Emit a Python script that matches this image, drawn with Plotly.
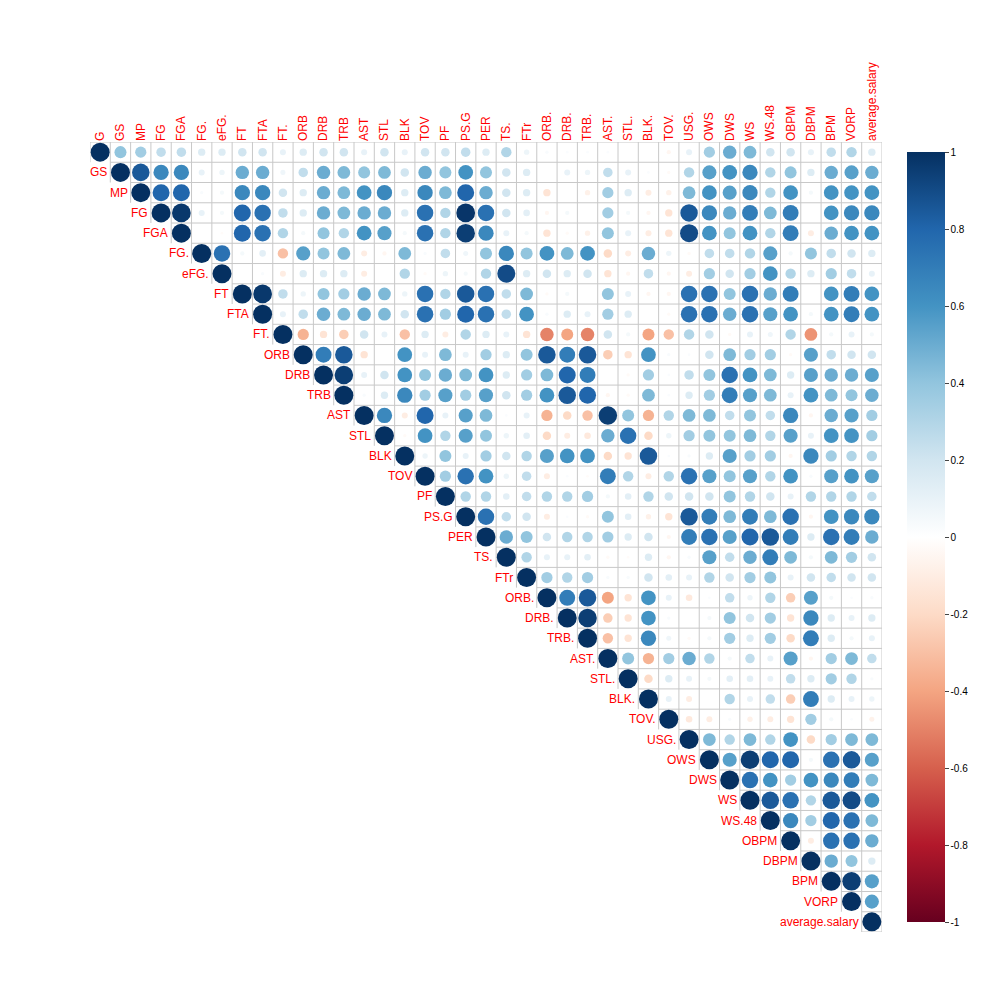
import numpy as np
import plotly.graph_objects as go

variables = ['G', 'GS', 'MP', 'FG', 'FGA', 'FG.', 'eFG.', 'FT', 'FTA', 'FT.', 'ORB', 'DRB', 'TRB',
             'AST', 'STL', 'BLK', 'TOV', 'PF', 'PS.G', 'PER', 'TS.', 'FTr', 'ORB.', 'DRB.', 'TRB.',
             'AST.', 'STL.', 'BLK.', 'TOV.', 'USG.', 'OWS', 'DWS', 'WS', 'WS.48', 'OBPM', 'DBPM',
             'BPM', 'VORP', 'average.salary']

# upper triangle, one list per row (values right of the diagonal)
upper_rows = [
    [.4, .35, .25, .25, .15, .15, .2, .2, .1, .15, .2, .2, .1, .2, .1, .2, .2, .25, .15, .3, .08, .03, .02, .02, .02, 0, 0, -.05, .1, .35, .5, .45, .2, .2, .1, .25, .3, .15],
    [.85, .65, .65, .1, .08, .5, .5, .07, .25, .5, .45, .4, .45, .2, .5, .4, .6, .4, .2, .15, 0, .1, .08, .25, .1, .02, -.03, .3, .55, .6, .65, .3, .4, .15, .5, .55, .5],
    [.8, .8, .03, .05, .65, .65, .2, .15, .5, .45, .6, .65, .15, .65, .45, .8, .5, .2, .15, -.15, 0, -.08, .35, .15, -.1, -.08, .45, .6, .55, .65, .3, .6, .05, .6, .6, .6],
    [.97, .1, .05, .8, .75, .25, .15, .5, .45, .5, .5, .15, .75, .3, .98, .75, .2, .12, -.05, .05, 0, .35, .05, -.05, -.15, .85, .65, .5, .7, .45, .7, 0, .6, .65, .65],
    [0, -.02, .8, .75, .3, .05, .4, .3, .6, .55, .05, .75, .3, .95, .65, .1, .05, -.15, -.03, -.08, .4, .1, -.1, -.15, .9, .6, .4, .6, .3, .7, -.1, .5, .6, .6],
    [.75, .05, .12, -.3, .55, .4, .45, -.1, -.05, .45, .03, .25, .07, .4, .65, .4, .6, .45, .6, -.2, -.1, .5, .08, -.03, .25, .25, .3, .55, .05, .4, .25, .2, .15],
    [0, .03, -.1, .15, .15, .15, -.1, 0, .3, -.03, .08, .05, .3, .9, .15, .2, .15, .2, -.15, -.05, .25, -.05, -.1, .35, .2, .35, .6, .3, .15, .35, .25, .1],
    [.97, .25, .08, .4, .35, .5, .45, .08, .75, .3, .85, .75, .25, .45, -.03, .05, 0, .4, .1, -.05, -.05, .75, .75, .4, .75, .5, .7, 0, .6, .7, .6],
    [.1, .25, .5, .45, .5, .45, .2, .75, .35, .8, .75, .25, .6, .03, .15, .1, .35, .15, 0, -.03, .75, .75, .5, .75, .55, .6, .05, .6, .7, .6],
    [-.35, -.15, -.25, .2, .1, -.3, .15, -.1, .3, .15, .1, -.15, -.5, -.4, -.5, .2, .05, -.4, -.3, .3, .2, -.03, .1, .07, .3, -.45, .05, .1, .05],
    [.7, .85, -.15, 0, .6, .1, .45, .1, .35, .15, .4, .85, .7, .85, -.25, -.15, .6, .03, .02, .2, .45, .35, .35, -.03, .55, .25, .2, .2],
    [.95, .1, .2, .6, .4, .5, .45, .6, .15, .35, .45, .8, .7, 0, -.03, .35, .02, .25, .4, .75, .6, .45, .15, .55, .5, .5, .55],
    [.03, .15, .65, .35, .55, .35, .55, .2, .35, .6, .85, .8, -.05, -.03, .45, .02, .15, .35, .7, .55, .45, .1, .6, .45, .4, .5],
    [.65, -.1, .8, .1, .55, .45, .02, .1, -.35, -.2, -.3, .95, .4, -.35, .3, .45, .45, .25, .4, .25, .65, -.05, .5, .55, .35],
    [-.03, .6, .3, .55, .4, .08, .12, -.2, -.1, -.12, .5, .75, -.2, .08, .35, .4, .4, .45, .3, .55, .1, .6, .6, .35],
    [.08, .4, .1, .35, .2, .3, .55, .6, .6, -.2, -.15, .85, .02, .03, .15, .55, .35, .35, -.05, .65, .35, .3, .3],
    [.35, .75, .6, .08, .25, -.1, .02, -.02, .7, .3, -.1, .3, .75, .55, .4, .55, .3, .6, .03, .55, .6, .55],
    [.3, .3, .12, .25, .3, .3, .35, .05, .12, .3, .2, .2, .2, .4, .3, .2, .1, .3, .3, .3, .25],
    [.75, .25, .2, -.1, .02, -.03, .4, .12, -.08, -.15, .85, .7, .45, .7, .45, .75, -.05, .6, .65, .65],
    [.5, .4, .2, .3, .3, .35, .15, .2, -.05, .7, .75, .55, .8, .85, .7, .15, .75, .7, .5],
    [.3, .1, .1, .12, -.03, -.02, .15, -.05, .03, .55, .25, .5, .7, .45, .05, .45, .35, .2],
    [.35, .3, .35, .03, .03, .2, .12, .1, .3, .2, .35, .4, .1, .2, .25, .2, .2],
    [.7, .85, -.4, -.15, .6, .1, -.12, .02, .25, .08, .3, -.25, .55, .05, .02, .03],
    [.95, -.25, -.15, .6, .03, 0, .05, .4, .2, .35, -.15, .65, .15, .1, .15],
    [-.3, -.15, .65, .07, -.03, .05, .35, .15, .35, -.2, .7, .15, .05, .1],
    [.4, -.35, .35, .5, .3, .05, .25, .1, .55, -.05, .35, .45, .25],
    [-.2, .15, .1, .05, .12, .12, .1, .25, .15, .35, .3, .03],
    [.1, -.1, 0, .3, .1, .25, -.25, .7, .15, .1, .08],
    [-.12, -.1, .03, -.08, -.1, -.15, .35, .05, .02, -.07],
    [.45, .3, .45, .3, .6, -.2, .35, .45, .45],
    [.55, .95, .8, .8, .05, .75, .85, .55],
    [.75, .6, .35, .6, .65, .7, .45],
    [.85, .75, .3, .85, .9, .6],
    [.65, .35, .8, .75, .45],
    [-.1, .75, .75, .5],
    [.5, .4, .15],
    [.95, .55],
    [.55],
]

n = len(variables)
idx = {v: k for k, v in enumerate(variables)}
xs, ys, vals = [], [], []
for i, row in enumerate(upper_rows + [[]]):
    assert len(row) == n - 1 - i, (i, len(row))
    for j, v in enumerate([1.0] + row):
        xs.append(variables[i + j])
        ys.append(variables[i])
        vals.append(v)
vals = np.array(vals)

colorscale = [
    [0.0, '#67001F'], [0.1, '#B2182B'], [0.2, '#D6604D'], [0.3, '#F4A582'], [0.4, '#FDDBC7'],
    [0.5, '#FFFFFF'], [0.6, '#D1E5F0'], [0.7, '#92C5DE'], [0.8, '#4393C3'], [0.9, '#2166AC'],
    [1.0, '#053061'],
]

# cell borders of the upper triangle
gx, gy = [], []
for i in range(n + 1):
    # horizontal edge above row i, from its diagonal (or the last cell) to the right
    start = min(i, n - 1) - 0.5
    gx += [start, n - 0.5, None]
    gy += [i - 0.5, i - 0.5, None]
    # vertical edge left of column i, down to its diagonal
    gx += [i - 0.5, i - 0.5, None]
    gy += [-0.5, min(i, n - 1) + 0.5, None]

fig = go.Figure()
fig.add_trace(go.Scatter(x=gx, y=gy, mode='lines', line={'color': '#C8C8C8', 'width': 1},
                         hoverinfo='skip', showlegend=False))
fig.add_trace(go.Scatter(
    x=[idx[v] for v in xs], y=[idx[v] for v in ys], mode='markers',
    text=[f'{a} / {b}: {c:.2f}' for a, b, c in zip(ys, xs, vals)], hoverinfo='text',
    marker={
        'size': 19 * np.sqrt(np.abs(vals)),
        'opacity': 1,
        'color': vals, 'cmin': -1, 'cmax': 1, 'colorscale': colorscale,
        'line': {'width': 0},
        'showscale': True,
        'colorbar': {
            'x': 1.019, 'xanchor': 'left', 'y': 0.5, 'len': 1.0, 'lenmode': 'fraction',
            'thickness': 38, 'outlinewidth': 0,
            'tickvals': [-1, -0.8, -0.6, -0.4, -0.2, 0, 0.2, 0.4, 0.6, 0.8, 1],
            'ticktext': ['-1', '-0.8', '-0.6', '-0.4', '-0.2', '0', '0.2', '0.4', '0.6', '0.8', '1'],
            'ticks': 'outside', 'ticklen': 4, 'tickfont': {'size': 10, 'color': 'black'},
        },
    },
    showlegend=False,
))

for i, v in enumerate(variables):
    if i == 0:
        continue
    fig.add_annotation(x=i - 0.55, y=i, text=v, showarrow=False, xanchor='right',
                       font={'color': 'red', 'size': 12, 'family': 'Liberation Sans, Arial'})

fig.update_layout(
    width=1000, height=1000,
    margin={'l': 82, 'r': 126, 't': 134, 'b': 76, 'autoexpand': False},
    plot_bgcolor='white', paper_bgcolor='white',
    font={'family': 'Liberation Sans, Arial'},
    xaxis={'range': [-0.5, n - 0.5], 'side': 'top', 'tickmode': 'array',
           'tickvals': list(range(n)), 'ticktext': variables, 'tickangle': -90,
           'tickfont': {'color': 'red', 'size': 12}, 'showgrid': False, 'zeroline': False,
           'ticks': '', 'showline': False},
    yaxis={'range': [n - 0.5, -0.5], 'showticklabels': False, 'showgrid': False,
           'zeroline': False, 'ticks': '', 'showline': False},
)
fig.write_html('out.html')
